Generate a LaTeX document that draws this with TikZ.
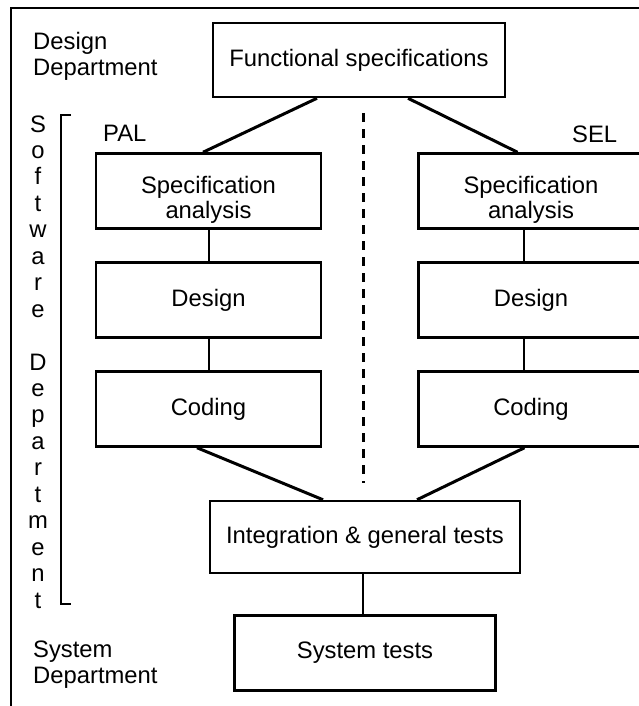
\documentclass[tikz,border=0pt]{standalone}
\usepackage{fontspec}
\setmainfont{Liberation Sans}
\usetikzlibrary{positioning}
\tikzstyle{phase}=[draw, line width=2.5pt, minimum width=225pt, minimum height=75pt, inner sep=0pt, align=center]
\tikzstyle{dept}=[anchor=west, inner sep=0pt, align=left]
\tikzstyle{link}=[line width=3pt]
\tikzstyle{stem}=[line width=2pt]

\begin{document}
\begin{tikzpicture}[x=1pt, y=-1pt, node distance=31.5pt, font=\fontsize{23.8}{25.5}\selectfont]
    \useasboundingbox (0,0) rectangle (638,706);
    \draw[line width=2.5pt] (11,706) -- (11,8) -- (645,8);

    % departments
    \node[dept] (desdept) at (33,56.5)  {Design\\Department};
    \node[dept] (sysdept) at (33,664.5) {System\\Department};
    \foreach \ch [count=\i from 0] in {S,o,f,t,w,a,r,e,,D,e,p,a,r,t,m,e,n,t}
        \node[anchor=base, inner sep=0pt] (sw\i) at (38,{132+26.45*\i}) {\ch};
    \draw[line width=1.2pt] (71,115) -- (61,115) -- (61,604) -- (71,604);

    \node[phase, minimum width=292pt, minimum height=74pt] (func) at (359,60) {Functional specifications};

    \node[dept] (pal) at (103,133.5) {PAL};
    \node[dept] (sel) at (572,134.5) {SEL};

    \node[phase, label={[align=center, yshift=-9pt]center:{Specification\\analysis}}] (lspec) at (208.5,191) {};
    \node[phase] (ldesign) [below = of lspec]    {Design};
    \node[phase] (lcoding) [below = of ldesign]  {Coding};
    \node[phase, label={[align=center, yshift=-9pt]center:{Specification\\analysis}}] (rspec) [right = 95pt of lspec] {};
    \node[phase] (rdesign) [below = of rspec]    {Design};
    \node[phase] (rcoding) [below = of rdesign]  {Coding};

    \node[phase, minimum width=310pt, minimum height=72pt] (integ) at (365,537) {Integration \& general tests};
    \node[phase, minimum width=261pt] (systest) [below = 40pt of integ] {System tests};

    \coordinate (divtop) at (363,113);
    \coordinate (divbot) at (363,483);
    \draw[line width=3pt, dash pattern=on 9pt off 7pt] (divtop) -- (divbot);

    \draw[link] ([xshift=-42pt]func.south) -- ([xshift=-5.5pt]lspec.north);
    \draw[link] ([xshift=49pt]func.south)  -- ([xshift=-13.5pt]rspec.north);
    \draw[stem] (lspec) -- (ldesign);
    \draw[stem] (ldesign) -- (lcoding);
    \draw[stem] ([xshift=-7.5pt]rspec.south)   -- ([xshift=-7.5pt]rdesign.north);
    \draw[stem] ([xshift=-7.5pt]rdesign.south) -- ([xshift=-7.5pt]rcoding.north);
    \draw[link] ([xshift=-11.5pt]lcoding.south) -- ([xshift=-42pt]integ.north);
    \draw[link] ([xshift=-6.5pt]rcoding.south)  -- ([xshift=52pt]integ.north);
    \draw[stem] ([xshift=-2pt]integ.south) -- ([xshift=-2pt]systest.north);
\end{tikzpicture}
\end{document}
